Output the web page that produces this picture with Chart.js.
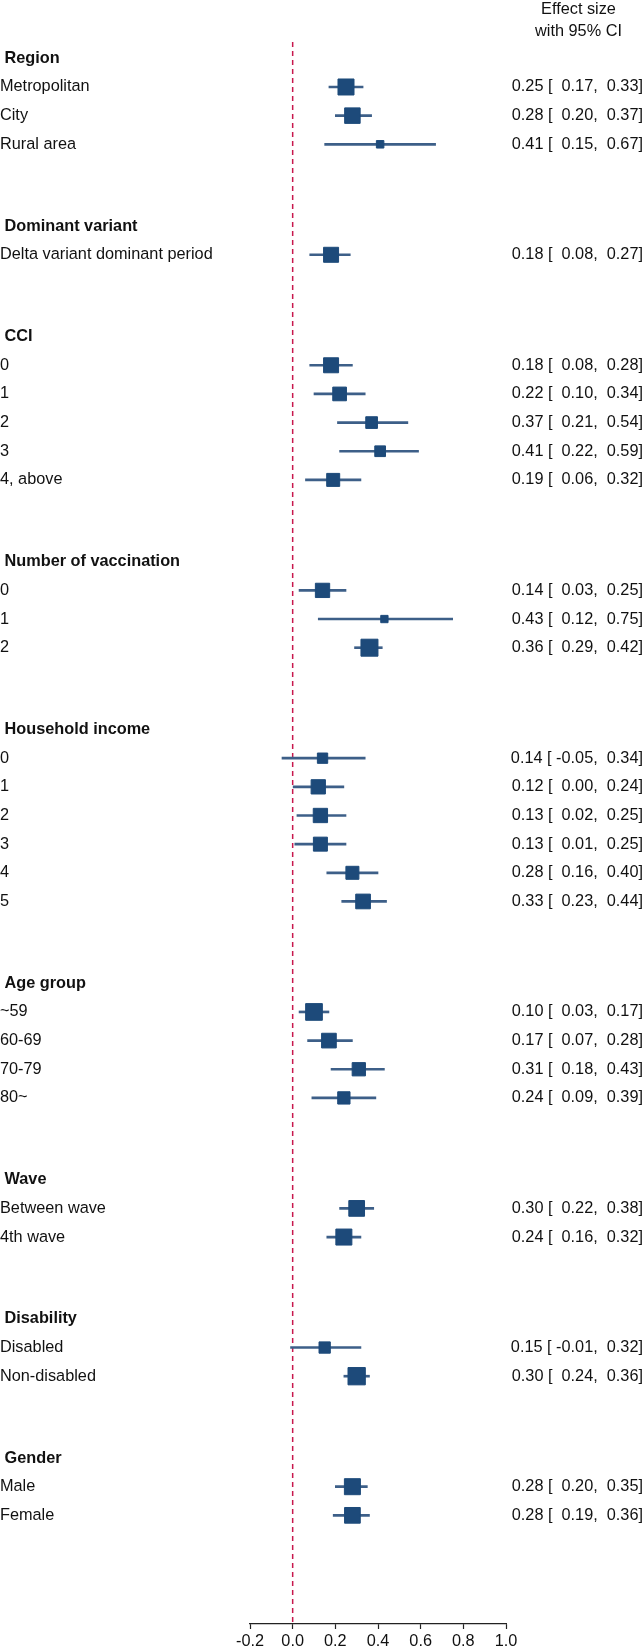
<!DOCTYPE html>
<html lang="en">
<head>
<meta charset="UTF-8">
<title>Forest plot</title>
<script src="https://cdn.jsdelivr.net/npm/chart.js@4.4.1/dist/chart.umd.min.js"></script>
<style>
  body { margin: 0; background: #fff; }
  #wrap { width: 644px; height: 1646px; position: relative; }
</style>
</head>
<body>
<div id="wrap"><canvas id="forest"></canvas></div>
<script>
// ---- data ----
const groupNames = ['Region', 'Dominant variant', 'CCI', 'Number of vaccination',
  'Household income', 'Age group', 'Wave', 'Disability', 'Gender'];

const itemGroup = [0, 0, 0, 1, 2, 2, 2, 2, 2, 3, 3, 3, 4, 4, 4, 4, 4, 4, 5, 5, 5, 5, 6, 6, 7, 7, 8, 8];

const itemLabels = ['Metropolitan', 'City', 'Rural area',
  'Delta variant dominant period',
  '0', '1', '2', '3', '4, above',
  '0', '1', '2',
  '0', '1', '2', '3', '4', '5',
  '~59', '60-69', '70-79', '80~',
  'Between wave', '4th wave',
  'Disabled', 'Non-disabled',
  'Male', 'Female'];

const estimates = [0.25, 0.28, 0.41,
  0.18,
  0.18, 0.22, 0.37, 0.41, 0.19,
  0.14, 0.43, 0.36,
  0.14, 0.12, 0.13, 0.13, 0.28, 0.33,
  0.10, 0.17, 0.31, 0.24,
  0.30, 0.24,
  0.15, 0.30,
  0.28, 0.28];

const lowerCI = [0.17, 0.20, 0.15,
  0.08,
  0.08, 0.10, 0.21, 0.22, 0.06,
  0.03, 0.12, 0.29,
  -0.05, 0.00, 0.02, 0.01, 0.16, 0.23,
  0.03, 0.07, 0.18, 0.09,
  0.22, 0.16,
  -0.01, 0.24,
  0.20, 0.19];

const upperCI = [0.33, 0.37, 0.67,
  0.27,
  0.28, 0.34, 0.54, 0.59, 0.32,
  0.25, 0.75, 0.42,
  0.34, 0.24, 0.25, 0.25, 0.40, 0.44,
  0.17, 0.28, 0.43, 0.39,
  0.38, 0.32,
  0.32, 0.36,
  0.35, 0.36];

// relative weights
const weights = [28.9, 27.2, 7.2,
  25.6,
  25.6, 21.6, 16.1, 13.7, 19.6,
  23.4, 6.9, 32.4,
  12.8, 23.4, 23.4, 22.5, 19.6, 24.6,
  31.3, 24.6, 20.4, 17.7,
  27.9, 28.9,
  15.1, 33.5,
  28.9, 27.9];

const xTicks = [-0.2, 0.0, 0.2, 0.4, 0.6, 0.8, 1.0];

// ---- row positions: header, one step per item, wider gap between groups ----
const GROUP_GAP = 2.856;
const rows = [];
const itemPos = [];
let pos = 0;
groupNames.forEach((name, g) => {
  if (g > 0) pos += GROUP_GAP;
  rows.push({ text: ' ' + name, header: true, pos: pos });
  itemGroup.forEach((ig, i) => {
    if (ig === g) {
      pos += 1;
      itemPos[i] = pos;
      rows.push({ text: itemLabels[i], header: false, pos: pos });
    }
  });
});

const yTop = -0.57;
const yBottom = 54.64;

function pad(v) {
  return (v < 0 ? ' ' : '  ') + v.toFixed(2);
}
function ciText(i) {
  return estimates[i].toFixed(2) + ' [' + pad(lowerCI[i]) + ',' + pad(upperCI[i]) + ']';
}

const FONT = '"Liberation Sans", Arial, Helvetica, sans-serif';
const FSIZE = 16.3;
const markerColor = '#1d4a7a';
const ciColor = '#3d5f88';

const pointData = estimates.map((e, i) => ({ x: e, y: itemPos[i] }));
const ciData = estimates.map((e, i) => ({ x: [lowerCI[i], upperCI[i]], y: itemPos[i] }));
const radii = weights.map(w => (Math.sqrt(w * 10) - 1) / 1.414);

const headerPlugin = {
  id: 'header',
  afterDraw(chart) {
    const s = chart.scales.y2;
    const ctx = chart.ctx;
    ctx.save();
    ctx.font = FSIZE + 'px ' + FONT;
    ctx.fillStyle = '#111';
    ctx.textAlign = 'center';
    ctx.textBaseline = 'middle';
    const cx = (s.left + s.right) / 2 + 4;
    ctx.fillText('Effect size', cx, 10);
    ctx.fillText('with 95% CI', cx, 32);
    ctx.restore();
  }
};

new Chart(document.getElementById('forest'), {
  type: 'scatter',
  data: {
    datasets: [
      {
        type: 'line',
        data: [{ x: 0, y: yTop }, { x: 0, y: yBottom }],
        borderColor: '#c8174d',
        borderWidth: 1.5,
        borderDash: [5, 4],
        pointRadius: 0,
        order: 3
      },
      {
        type: 'bar',
        indexAxis: 'y',
        data: ciData,
        backgroundColor: ciColor,
        barThickness: 2,
        borderWidth: 0,
        borderSkipped: false,
        grouped: false,
        order: 2
      },
      {
        type: 'scatter',
        data: pointData,
        pointStyle: 'rect',
        pointRadius: radii,
        pointBackgroundColor: markerColor,
        pointBorderColor: markerColor,
        pointBorderWidth: 1,
        order: 1
      }
    ]
  },
  options: {
    responsive: true,
    maintainAspectRatio: false,
    animation: false,
    layout: { padding: { top: 42, right: 1, left: 0, bottom: 0 } },
    plugins: { legend: { display: false }, tooltip: { enabled: false } },
    scales: {
      x: {
        type: 'linear',
        min: -0.2,
        max: 1.0,
        offset: false,
        afterBuildTicks: (s) => { s.ticks = xTicks.map(v => ({ value: v })); },
        afterFit: (s) => { s.height = 22; },
        ticks: {
          autoSkip: false,
          padding: 3,
          color: '#111',
          font: { family: FONT, size: FSIZE },
          callback: (v) => Number(v).toFixed(1)
        },
        grid: { offset: false, drawOnChartArea: false, tickLength: 5, tickColor: '#222', tickWidth: 1.2 },
        border: { display: true, color: '#222', width: 1.2 }
      },
      y: {
        type: 'linear',
        position: 'left',
        reverse: true,
        offset: false,
        min: yTop,
        max: yBottom,
        afterBuildTicks: (s) => { s.ticks = rows.map(r => ({ value: r.pos })); },
        afterFit: (s) => { s.width = 250; },
        ticks: {
          autoSkip: false,
          crossAlign: 'far',
          color: '#111',
          font: (ctx) => {
            const r = rows[ctx.index];
            return { family: FONT, size: FSIZE, weight: r && r.header ? 'bold' : 'normal' };
          },
          callback: (v, idx) => (rows[idx] ? rows[idx].text : '')
        },
        grid: { display: false, offset: false },
        border: { display: false }
      },
      y2: {
        type: 'linear',
        position: 'right',
        reverse: true,
        offset: false,
        min: yTop,
        max: yBottom,
        afterBuildTicks: (s) => { s.ticks = itemPos.map(p => ({ value: p })); },
        afterFit: (s) => { s.width = 137; },
        ticks: {
          autoSkip: false,
          crossAlign: 'far',
          color: '#111',
          font: { family: FONT, size: FSIZE },
          callback: (v, idx) => ciText(idx)
        },
        grid: { display: false },
        border: { display: false }
      }
    }
  },
  plugins: [headerPlugin]
});
</script>
</body>
</html>
